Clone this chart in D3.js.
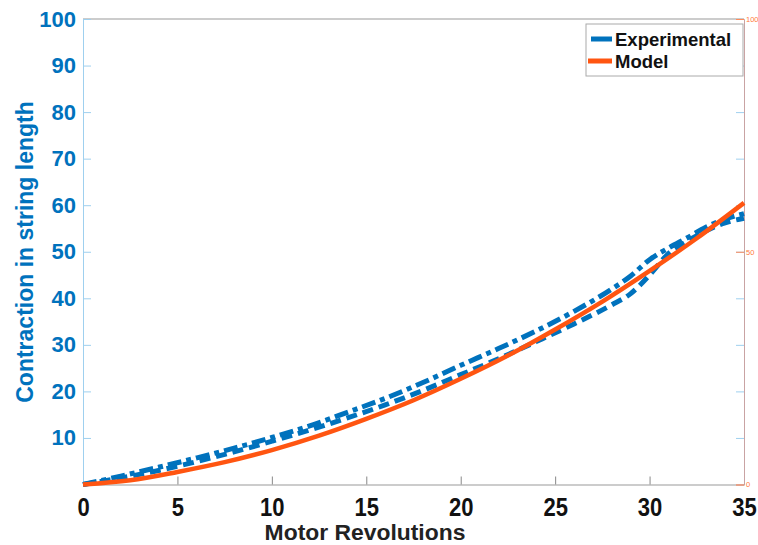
<!DOCTYPE html>
<html>
<head>
<meta charset="utf-8">
<script src="https://cdn.jsdelivr.net/npm/d3@7"></script>
<style>
  body { margin: 0; background: #fff; }
  svg { display: block; }
</style>
</head>
<body>
<svg width="758" height="545"></svg>
<script>
// revolutions for the model curve
const modelRevs = [0, 2.5, 5, 7.5, 10, 12.5, 15, 17.5, 20, 22.5, 25, 27.5, 30, 32.5, 35];
const modelVals = [0, 0.9, 2.7, 4.8, 7.4, 10.5, 14.1, 18.1, 22.7, 27.7, 33.3, 39.3, 45.9, 52.9, 60.5];

// two experimental runs, same revolutions
const expRevs = [0, 2, 4, 6, 8, 10, 12, 14, 16, 18, 20, 22, 24, 26, 28, 29, 30, 31, 32, 33, 34, 35];
const expRunA = [0, 1.8, 3.7, 5.7, 7.8, 10.1, 12.6, 15.5, 18.5, 21.9, 25.6, 29.2, 33.0, 37.2, 42.0, 44.8, 48.3, 50.8, 53.0, 55.3, 57.0, 58.2];
const expRunB = [0, 1.4, 3.0, 4.9, 7.0, 9.3, 11.7, 14.3, 17.1, 20.2, 23.6, 27.0, 30.7, 34.5, 38.6, 41.0, 45.0, 49.6, 52.3, 54.5, 56.2, 57.2];

const xTicks = [0, 5, 10, 15, 20, 25, 30, 35];
const yTicks = [10, 20, 30, 40, 50, 60, 70, 80, 90, 100];
const y2Ticks = [0, 50, 100];

const blue = "#0072bd", orange = "#ff5511";
const mLeft = 83, mRight = 744, mTop = 19, mBottom = 484.5;

const svg = d3.select("svg")
    .attr("font-family", "Liberation Sans, Arial, sans-serif");

const x = d3.scaleLinear().domain([0, 35]).range([mLeft, mRight]);
const y = d3.scaleLinear().domain([0, 100]).range([mBottom, mTop]);
const y2 = d3.scaleLinear().domain([0, 100]).range([mBottom, mTop]);

// frame top
svg.append("line")
    .attr("x1", mLeft).attr("x2", mRight).attr("y1", mTop).attr("y2", mTop)
    .attr("stroke", "#999").attr("stroke-width", 1);

// x axis
const gx = svg.append("g")
    .attr("transform", `translate(0,${mBottom})`)
    .call(d3.axisBottom(x).tickValues(xTicks).tickSize(-8).tickPadding(0));
gx.select(".domain").attr("stroke", "#999");
gx.selectAll(".tick line").attr("stroke", "#888");
gx.selectAll(".tick text")
    .attr("fill", "#111")
    .attr("font-weight", "bold")
    .attr("font-size", 25)
    .attr("dy", null)
    .attr("y", 0)
    .attr("transform", "translate(0,31) scale(0.88,1)");

// left axis
const gy = svg.append("g")
    .attr("transform", `translate(${mLeft},0)`)
    .call(d3.axisLeft(y).tickValues(yTicks).tickSize(-8).tickPadding(7));
gy.select(".domain").attr("stroke", "#9fd0ef");
gy.selectAll(".tick line").attr("stroke", "#9fd0ef");
gy.selectAll(".tick text")
    .attr("fill", blue)
    .attr("font-weight", "bold")
    .attr("font-size", 22);

// left-axis ticks mirrored on the right edge
svg.append("g")
    .attr("transform", `translate(${mRight},0)`)
    .call(d3.axisRight(y).tickValues(yTicks).tickSize(-8).tickFormat(""))
    .call(g => g.select(".domain").remove())
    .selectAll(".tick line").attr("stroke", "#9fd0ef");

// right axis
const gy2 = svg.append("g")
    .attr("transform", `translate(${mRight},0)`)
    .call(d3.axisRight(y2).tickValues(y2Ticks).tickSize(-8).tickPadding(2));
gy2.select(".domain").attr("stroke", "#c9a3a3");
gy2.selectAll(".tick line").attr("stroke", "#ff8a5a");
gy2.selectAll(".tick text")
    .attr("fill", "#ff7a40")
    .attr("font-size", 7.5);

// curves
const line = (xs, ys) => d3.line()
    .x((d, i) => x(xs[i]))
    .y(d => y(d))
    .curve(d3.curveMonotoneX)(ys);

svg.append("path")
    .attr("d", line(expRevs, expRunB))
    .attr("fill", "none").attr("stroke", blue)
    .attr("stroke-width", 5).attr("stroke-dasharray", "11,6");

svg.append("path")
    .attr("d", line(expRevs, expRunA))
    .attr("fill", "none").attr("stroke", blue)
    .attr("stroke-width", 5).attr("stroke-dasharray", "14,5,5,5");

svg.append("path")
    .attr("d", line(modelRevs, modelVals))
    .attr("fill", "none").attr("stroke", orange)
    .attr("stroke-width", 4.5);

// axis titles
svg.append("text")
    .attr("transform", "translate(365,540) scale(1.04,1)")
    .attr("text-anchor", "middle")
    .attr("font-weight", "bold").attr("font-size", 22)
    .attr("fill", "#222")
    .text("Motor Revolutions");

svg.append("text")
    .attr("transform", "translate(33,252) rotate(-90)")
    .attr("text-anchor", "middle")
    .attr("font-weight", "bold").attr("font-size", 23)
    .attr("fill", blue)
    .text("Contraction in string length");

// legend
const lg = svg.append("g");
lg.append("rect")
    .attr("x", 586).attr("y", 24).attr("width", 157).attr("height", 52)
    .attr("fill", "#fff").attr("stroke", "#aaa");
const items = [["Experimental", blue], ["Model", orange]];
items.forEach(([name, c], i) => {
    const yy = 39 + i * 22;
    lg.append("line")
        .attr("x1", i ? 588 : 591).attr("x2", 612)
        .attr("y1", yy).attr("y2", yy)
        .attr("stroke", c).attr("stroke-width", 5);
    lg.append("text")
        .attr("x", 615).attr("y", yy + 6.5)
        .attr("font-weight", "bold").attr("font-size", 18.5)
        .attr("fill", "#111")
        .text(name);
});
</script>
</body>
</html>
